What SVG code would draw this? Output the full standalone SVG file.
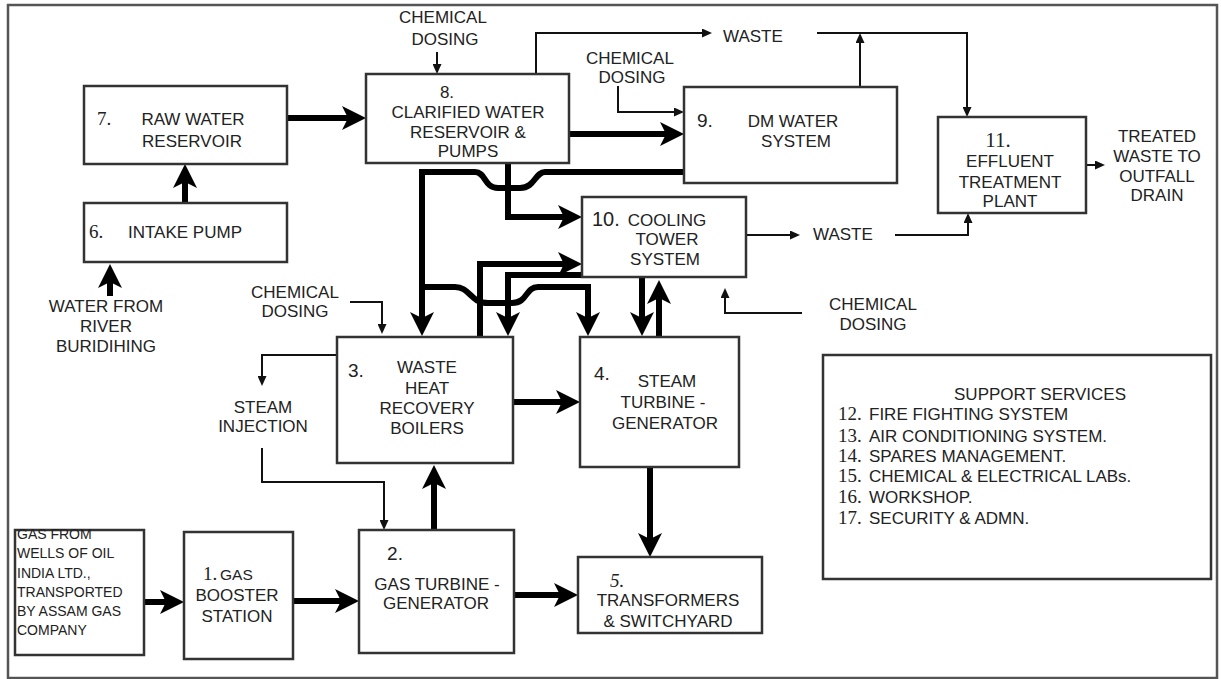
<svg xmlns="http://www.w3.org/2000/svg" width="1221" height="679" viewBox="0 0 1221 679">
<style>
.box{fill:#fff;stroke:#333;stroke-width:2.5}
.t{font-family:"Liberation Sans",Arial,sans-serif;font-size:17px;fill:#222;text-anchor:middle}
.s{font-family:"Liberation Sans",Arial,sans-serif;font-size:14px;fill:#222}
.l{text-anchor:start}
.n{font-family:"Liberation Sans",Arial,sans-serif;font-size:19px;fill:#222}
.ns{font-family:"Liberation Serif","Times New Roman",serif;font-size:19px;fill:#222}
.thick{fill:none;stroke:#000;stroke-width:6;marker-end:url(#big)}
.thin{fill:none;stroke:#111;stroke-width:2;marker-end:url(#small)}
</style>
<defs>
<marker id="big" markerUnits="userSpaceOnUse" markerWidth="24" markerHeight="24" viewBox="0 0 24 24" refX="8" refY="12" orient="auto">
<path d="M0,0 L24,12 L0,24 L6,12 z" fill="#000"/>
</marker>
<marker id="small" markerUnits="userSpaceOnUse" markerWidth="10" markerHeight="9" viewBox="0 0 10 9" refX="2" refY="4.5" orient="auto">
<path d="M0,0 L10,4.5 L0,9 z" fill="#111"/>
</marker>
</defs>
<rect x="0" y="0" width="1221" height="679" fill="#fff"/>
<rect x="8" y="5" width="1209" height="673" fill="none" stroke="#555" stroke-width="2.5"/>

<g id="connectors">
<path class="thick" d="M287,118 H350"/>
<path class="thick" d="M185,203 V180"/>
<path class="thick" d="M110,296 V280"/>
<path class="thick" d="M569,134 H668"/>
<path class="thick" d="M508,163 V217 H566"/>
<path class="thick" d="M684,172 H545 C535,172 535,188 520,188 H498 C484,188 486,172 475,172 H422 V320"/>
<path class="thick" d="M422,287 H455 C470,287 470,303 488,303 H512 C528,303 525,287 538,287 H588 V320"/>
<path class="thick" d="M480,337 V264 H566"/>
<path class="thick" d="M582,275 H508 V320"/>
<path class="thick" d="M642,277 V320"/>
<path class="thick" d="M659,337 V296"/>
<path class="thick" d="M513,402 H564"/>
<path class="thick" d="M434,530 V481"/>
<path class="thick" d="M650,467 V541"/>
<path class="thick" d="M514,595 H562"/>
<path class="thick" d="M144,602 H168"/>
<path class="thick" d="M293,601 H343"/>

<path class="thin" d="M437,52 V66"/>
<path class="thin" d="M536,74 V33 H704"/>
<path class="thin" d="M817,33 H967 V109"/>
<path class="thin" d="M860,87 V41"/>
<path class="thin" d="M618,86 V112 H676"/>
<path class="thin" d="M1086,165 H1097"/>
<path class="thin" d="M746,235 H792"/>
<path class="thin" d="M895,235 H968 V221"/>
<path class="thin" d="M802,313 H725 V296"/>
<path class="thin" d="M350,302 H382 V326"/>
<path class="thin" d="M337,355 H262 V378"/>
<path class="thin" d="M262,448 V482 H384 V522"/>
</g>

<g id="node7">
<rect class="box" x="84" y="86" width="203" height="78"/>
<text class="ns" x="97" y="125">7.</text>
<text class="t" x="193" y="125">RAW WATER</text>
<text class="t" x="192" y="147">RESERVOIR</text>
</g>
<g id="node6">
<rect class="box" x="84" y="203" width="203" height="59"/>
<text class="ns" x="89" y="238">6.</text>
<text class="t" x="185" y="238">INTAKE PUMP</text>
</g>
<g id="river">
<text class="t" x="106" y="312">WATER FROM</text>
<text class="t" x="106" y="332">RIVER</text>
<text class="t" x="106" y="352">BURIDIHING</text>
</g>
<g id="node8">
<rect class="box" x="366" y="74" width="203" height="89"/>
<text class="t" x="447" y="98">8.</text>
<text class="t" x="468" y="118">CLARIFIED WATER</text>
<text class="t" x="468" y="138">RESERVOIR &amp;</text>
<text class="t" x="468" y="157">PUMPS</text>
</g>
<g id="dosing8">
<text class="t" x="443" y="23">CHEMICAL</text>
<text class="t" x="445" y="45">DOSING</text>
</g>
<g id="waste1">
<text class="t l" x="723" y="42">WASTE</text>
</g>
<g id="dosing9">
<text class="t" x="630" y="64">CHEMICAL</text>
<text class="t" x="632" y="83">DOSING</text>
</g>
<g id="node9">
<rect class="box" x="684" y="87" width="213" height="96"/>
<text class="n" x="697" y="127">9.</text>
<text class="t" x="793" y="127">DM WATER</text>
<text class="t" x="796" y="147">SYSTEM</text>
</g>
<g id="node11">
<rect class="box" x="938" y="117" width="148" height="96"/>
<text class="ns" x="998" y="147" style="font-size:21px;text-anchor:middle">11.</text>
<text class="t" x="1010" y="167">EFFLUENT</text>
<text class="t" x="1010" y="188">TREATMENT</text>
<text class="t" x="1010" y="207">PLANT</text>
</g>
<g id="treated">
<text class="t" x="1157" y="142">TREATED</text>
<text class="t" x="1157" y="162">WASTE TO</text>
<text class="t" x="1157" y="182">OUTFALL</text>
<text class="t" x="1157" y="201">DRAIN</text>
</g>
<g id="node10">
<rect class="box" x="582" y="197" width="164" height="80"/>
<text class="n" x="592" y="226" style="font-size:20px">10.</text>
<text class="t" x="667" y="226">COOLING</text>
<text class="t" x="667" y="245">TOWER</text>
<text class="t" x="665" y="265">SYSTEM</text>
</g>
<g id="waste2">
<text class="t l" x="813" y="240">WASTE</text>
</g>
<g id="dosing10">
<text class="t" x="873" y="310">CHEMICAL</text>
<text class="t" x="873" y="330">DOSING</text>
</g>
<g id="dosing3">
<text class="t" x="295" y="298">CHEMICAL</text>
<text class="t" x="295" y="317">DOSING</text>
</g>
<g id="steaminj">
<text class="t" x="263" y="413">STEAM</text>
<text class="t" x="263" y="432">INJECTION</text>
</g>
<g id="node3">
<rect class="box" x="337" y="337" width="176" height="126"/>
<text class="n" x="348" y="377">3.</text>
<text class="t" x="427" y="373">WASTE</text>
<text class="t" x="427" y="394">HEAT</text>
<text class="t" x="427" y="414">RECOVERY</text>
<text class="t" x="427" y="434">BOILERS</text>
</g>
<g id="node4">
<rect class="box" x="580" y="337" width="159" height="130"/>
<text class="n" x="594" y="380">4.</text>
<text class="t" x="667" y="387">STEAM</text>
<text class="t" x="663" y="408">TURBINE -</text>
<text class="t" x="665" y="429">GENERATOR</text>
</g>
<g id="source">
<rect class="box" x="15" y="530" width="129" height="125"/>
<text class="s" x="17" y="539">GAS FROM</text>
<text class="s" x="17" y="558">WELLS OF OIL</text>
<text class="s" x="17" y="578">INDIA LTD.,</text>
<text class="s" x="17" y="597">TRANSPORTED</text>
<text class="s" x="17" y="616">BY ASSAM GAS</text>
<text class="s" x="17" y="635">COMPANY</text>
</g>
<g id="node1">
<rect class="box" x="184" y="532" width="109" height="127"/>
<text class="ns" x="203" y="580">1.</text>
<text class="t l" x="220" y="580" style="font-size:15.5px">GAS</text>
<text class="t" x="237" y="601">BOOSTER</text>
<text class="t" x="237" y="622">STATION</text>
</g>
<g id="node2">
<rect class="box" x="359" y="530" width="155" height="123"/>
<text class="n" x="395" y="560" style="text-anchor:middle">2.</text>
<text class="t" x="437" y="590">GAS TURBINE -</text>
<text class="t" x="436" y="609">GENERATOR</text>
</g>
<g id="node5">
<rect class="box" x="578" y="557" width="184" height="76"/>
<text class="ns" x="617" y="587" style="font-style:italic;text-anchor:middle">5.</text>
<text class="t" x="668" y="606">TRANSFORMERS</text>
<text class="t" x="668" y="627">&amp; SWITCHYARD</text>
</g>
<g id="support">
<rect class="box" x="823" y="355" width="388" height="224"/>
<text class="t" x="1040" y="400">SUPPORT SERVICES</text>
<text class="ns" x="838" y="420">12.</text><text class="t l" x="869" y="420">FIRE FIGHTING SYSTEM</text>
<text class="ns" x="838" y="442">13.</text><text class="t l" x="869" y="442">AIR CONDITIONING SYSTEM.</text>
<text class="ns" x="838" y="462">14.</text><text class="t l" x="869" y="462">SPARES MANAGEMENT.</text>
<text class="ns" x="838" y="482">15.</text><text class="t l" x="869" y="482">CHEMICAL &amp; ELECTRICAL LABs.</text>
<text class="ns" x="838" y="503">16.</text><text class="t l" x="869" y="503">WORKSHOP.</text>
<text class="ns" x="838" y="524">17.</text><text class="t l" x="869" y="524">SECURITY &amp; ADMN.</text>
</g>
</svg>
